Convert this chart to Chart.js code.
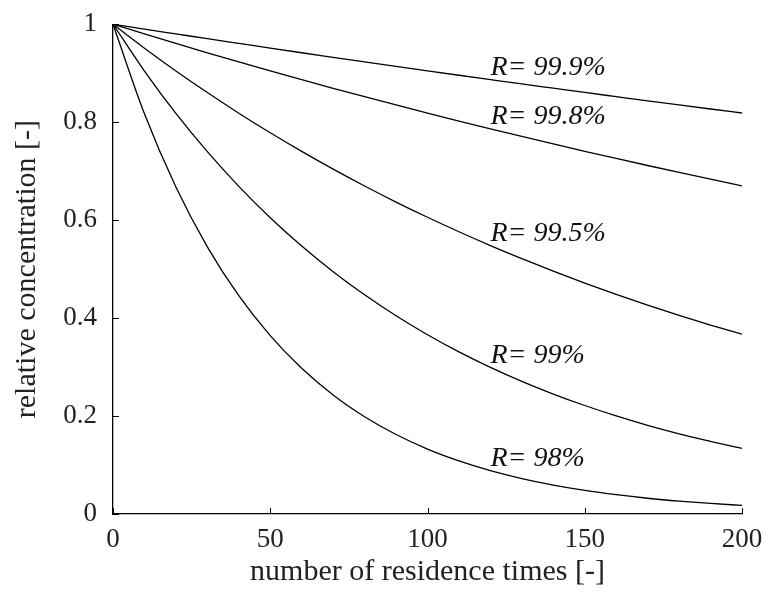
<!DOCTYPE html>
<html>
<head>
<meta charset="utf-8">
<script src="https://cdn.jsdelivr.net/npm/chart.js@4/dist/chart.umd.min.js"></script>
<style>
  html, body { margin: 0; padding: 0; background: #fff; }
  #wrap { width: 765px; height: 594px; }
</style>
</head>
<body>
<div id="wrap"><canvas id="c" width="765" height="594"></canvas></div>
<script>
// residence times sampled along the x axis
const residenceTimes = [0, 10, 20, 30, 40, 50, 60, 70, 80, 90, 100, 110, 120, 130, 140, 150, 160, 170, 180, 190, 200];

// relative concentration for each retention R
const conc999 = [1, 0.9900, 0.9802, 0.9704, 0.9608, 0.9512, 0.9417, 0.9324, 0.9231, 0.9139, 0.9048, 0.8958, 0.8869, 0.8780, 0.8693, 0.8606, 0.8521, 0.8436, 0.8352, 0.8269, 0.8187];
const conc998 = [1, 0.9802, 0.9608, 0.9417, 0.9230, 0.9047, 0.8868, 0.8692, 0.8520, 0.8351, 0.8185, 0.8023, 0.7864, 0.7708, 0.7555, 0.7405, 0.7259, 0.7115, 0.6974, 0.6835, 0.6700];
const conc995 = [1, 0.9511, 0.9046, 0.8604, 0.8183, 0.7783, 0.7403, 0.7041, 0.6697, 0.6369, 0.6058, 0.5762, 0.5480, 0.5212, 0.4957, 0.4715, 0.4484, 0.4265, 0.4057, 0.3858, 0.3670];
const conc990 = [1, 0.9044, 0.8179, 0.7397, 0.6690, 0.6050, 0.5472, 0.4948, 0.4475, 0.4047, 0.3660, 0.3310, 0.2994, 0.2708, 0.2449, 0.2215, 0.2003, 0.1811, 0.1638, 0.1482, 0.1340];
const conc980 = [1, 0.8171, 0.6676, 0.5455, 0.4457, 0.3642, 0.2976, 0.2431, 0.1987, 0.1623, 0.1326, 0.1084, 0.0885, 0.0723, 0.0591, 0.0483, 0.0395, 0.0322, 0.0263, 0.0215, 0.0176];

// curve labels and where they sit (data units)
const curveLabels = ['R= 99.9%', 'R= 99.8%', 'R= 99.5%', 'R= 99%', 'R= 98%'];
const labelX = [120, 120, 120, 120, 120];
const labelY = [0.897, 0.796, 0.558, 0.309, 0.098];

const xTicks = [0, 50, 100, 150, 200];
const yTicks = [0, 0.2, 0.4, 0.6, 0.8, 1];

const serif = '"Liberation Serif", "DejaVu Serif", serif';
const seriesList = [conc999, conc998, conc995, conc990, conc980];

const datasets = seriesList.map((vals, i) => ({
  label: curveLabels[i],
  data: residenceTimes.map((t, j) => ({ x: t, y: vals[j] })),
  borderColor: '#000',
  borderWidth: 1.3,
  pointRadius: 0,
  fill: false,
  cubicInterpolationMode: 'monotone'
}));

// inward tick marks and the italic curve labels
const decorations = {
  id: 'decorations',
  afterDatasetsDraw(chart) {
    const { ctx, scales: { x, y } } = chart;
    ctx.save();
    ctx.strokeStyle = '#000';
    ctx.lineWidth = 1;
    const tl = 6;
    xTicks.forEach(v => {
      const px = Math.round(x.getPixelForValue(v)) + 0.5;
      ctx.beginPath();
      ctx.moveTo(px, y.bottom);
      ctx.lineTo(px, y.bottom - tl);
      ctx.stroke();
    });
    yTicks.forEach(v => {
      const py = Math.round(y.getPixelForValue(v)) + 0.5;
      ctx.beginPath();
      ctx.moveTo(x.left, py);
      ctx.lineTo(x.left + tl, py);
      ctx.stroke();
    });
    ctx.fillStyle = '#111';
    ctx.font = 'italic 28px ' + serif;
    ctx.textAlign = 'left';
    ctx.textBaseline = 'alphabetic';
    curveLabels.forEach((txt, i) => {
      ctx.fillText(txt, x.getPixelForValue(labelX[i]), y.getPixelForValue(labelY[i]));
    });
    ctx.restore();
  }
};

new Chart(document.getElementById('c'), {
  type: 'line',
  data: { datasets },
  plugins: [decorations],
  options: {
    responsive: false,
    animation: false,
    events: [],
    layout: { padding: { top: 21, right: 23, bottom: 0, left: 0 } },
    plugins: { legend: { display: false }, tooltip: { enabled: false } },
    scales: {
      x: {
        type: 'linear',
        min: 0, max: 200,
        afterBuildTicks: s => { s.ticks = xTicks.map(v => ({ value: v })); },
        afterFit: s => { s.height = 80; },
        grid: { display: false },
        border: { display: true, color: '#000', width: 1.3 },
        ticks: { color: '#222', font: { family: serif, size: 27 }, padding: 2, maxRotation: 0 },
        title: { display: true, text: 'number of residence times [-]', color: '#222', font: { family: serif, size: 30 }, padding: { top: 0, bottom: 4 } }
      },
      y: {
        type: 'linear',
        min: 0, max: 1,
        afterBuildTicks: s => { s.ticks = yTicks.map(v => ({ value: v })); },
        afterFit: s => { s.width = 113; },
        grid: { display: false },
        border: { display: true, color: '#000', width: 1.3 },
        ticks: { color: '#222', font: { family: serif, size: 27 }, padding: 8, callback: v => String(+v.toFixed(1)) },
        title: { display: true, text: 'relative concentration [-]', color: '#222', font: { family: serif, size: 30 }, padding: { top: 9, bottom: 0 } }
      }
    }
  }
});
</script>
</body>
</html>
